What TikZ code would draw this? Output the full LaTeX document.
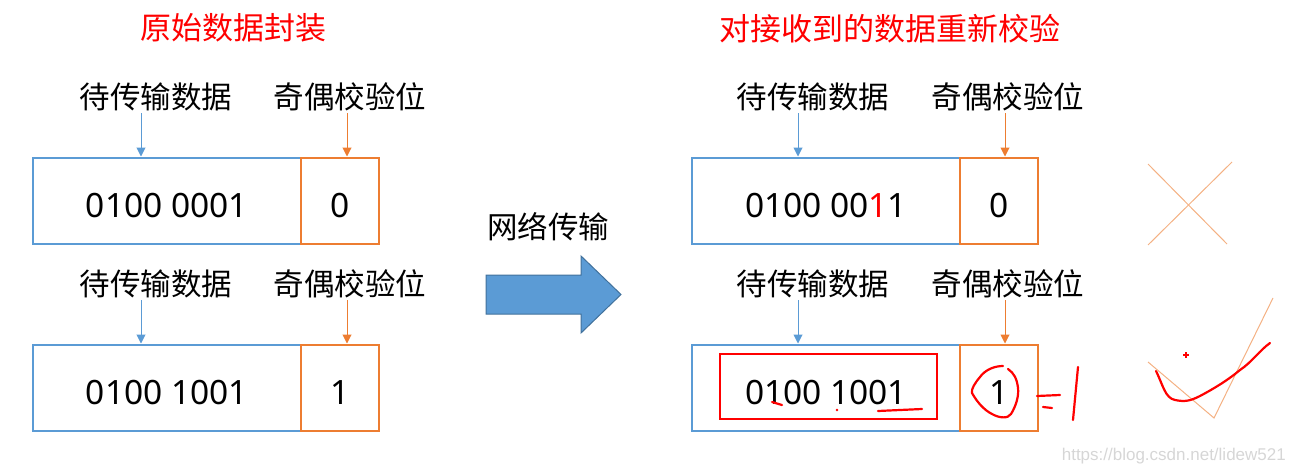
\documentclass[tikz,border=0pt]{standalone}
\usepackage{fontspec}
\setmainfont{Noto Sans CJK SC}
\newfontfamily\wmfont{Liberation Sans}
\newfontfamily\digfont{Noto Sans}
\definecolor{pblue}{HTML}{5B9BD5}
\definecolor{porange}{HTML}{ED7D31}
\definecolor{lorange}{HTML}{F4B183}
\definecolor{darkblue}{HTML}{41719C}
\definecolor{wmgray}{HTML}{D6D6D6}
\usetikzlibrary{arrows.meta}
\tikzset{
  lbl/.style={inner sep=0pt, font=\fontsize{30.5}{34}\selectfont},
  ttl/.style={inner sep=0pt, text=red, font=\fontsize{31}{34}\selectfont},
  datab/.style={draw=pblue, line width=2pt, minimum width=268pt, minimum height=86pt, inner sep=0pt, text height=33pt, text depth=0pt, font=\digfont\fontsize{33.5}{36}\selectfont},
  parb/.style={draw=porange, line width=2pt, minimum width=78pt, minimum height=86pt, inner sep=0pt, text height=33pt, text depth=0pt, font=\digfont\fontsize{33.5}{36}\selectfont},
  barrow/.style={draw=pblue, line width=1pt, -{Triangle[length=9pt,width=9pt]}},
  oarrow/.style={draw=porange, line width=1pt, -{Triangle[length=9pt,width=9pt]}},
  hand/.style={draw=red, line width=2.2pt, line cap=round, line join=round},
  thinx/.style={draw=lorange, line width=1pt}
}
\begin{document}
\begin{tikzpicture}[x=1pt,y=-1pt]
\useasboundingbox (0,0) rectangle (1294,474);
% titles
\node[ttl] (t1) at (233,28) {原始数据封装};
\node[ttl] (t2) at (890,29) {对接收到的数据重新校验};
% left top
\node[lbl] (la1) at (156,97) {待传输数据};
\node[lbl] (lb1) at (350,97) {奇偶校验位};
\node[datab] (d1) at (167,200.5) {0100 0001};
\node[parb] (p1) at (340,200.5) {0};
\coordinate (a1s) at (141,113);
\coordinate (b1s) at (347,113);
\draw[barrow] (a1s) -- (a1s |- d1.north);
\draw[oarrow] (b1s) -- (b1s |- p1.north);
% left bottom
\node[lbl] (la2) at (156,284) {待传输数据};
\node[lbl] (lb2) at (350,284) {奇偶校验位};
\node[datab] (d2) at (167,387.5) {0100 1001};
\node[parb] (p2) at (340,387.5) {1};
\coordinate (a2s) at (141,300);
\coordinate (b2s) at (347,300);
\draw[barrow] (a2s) -- (a2s |- d2.north);
\draw[oarrow] (b2s) -- (b2s |- p2.north);
% network arrow
\node[lbl] (net) at (548,227) {网络传输};
\draw[fill=pblue, draw=darkblue, line width=1pt] (486,275) -- (581,275) -- (581,256) -- (621,294.5) -- (581,333) -- (581,314) -- (486,314) -- cycle;
% right top
\node[lbl] (la3) at (813,97) {待传输数据};
\node[lbl] (lb3) at (1008,97) {奇偶校验位};
\node[datab] (d3) at (826,200.5) {0100 00\textcolor{red}{1}1};
\node[parb] (p3) at (999,200.5) {0};
\coordinate (a3s) at (798,113);
\coordinate (b3s) at (1005,113);
\draw[barrow] (a3s) -- (a3s |- d3.north);
\draw[oarrow] (b3s) -- (b3s |- p3.north);
% right bottom
\node[lbl] (la4) at (813,284) {待传输数据};
\node[lbl] (lb4) at (1008,284) {奇偶校验位};
\node[datab] (d4) at (826,387.5) {0100 1001};
\node[parb] (p4) at (999,387.5) {1};
\coordinate (a4s) at (798,300);
\coordinate (b4s) at (1005,300);
\draw[barrow] (a4s) -- (a4s |- d4.north);
\draw[oarrow] (b4s) -- (b4s |- p4.north);
% red rectangle
\draw[draw=red, line width=2pt] (720,354) rectangle (937,419);
% underlines
\draw[hand] (772,402) -- (782,405);
\fill[red] (837,410) circle (1.3pt);
\draw[hand] (878,411) -- (922,409);
% circle around 1
\draw[hand] (1003,366) .. controls (994,366) and (985,370) .. (980,377)
  .. controls (975,383) and (971,389) .. (972,393)
  .. controls (977,402) and (984,410) .. (992,414)
  .. controls (999,418) and (1008,419) .. (1011,414)
  .. controls (1016,406) and (1019,396) .. (1018,388)
  .. controls (1017,379) and (1014,373) .. (1008,369);
% =1
\draw[hand] (1037,396) -- (1060,395);
\draw[hand] (1043,407) -- (1052,408);
\draw[hand] (1078,367) -- (1073,420);
% cross
\draw[thinx] (1148,164) -- (1227,244);
\draw[thinx] (1232,162) -- (1148,245);
% check
\draw[thinx] (1148,362) -- (1214,418) -- (1273,298);
\draw[hand] (1156,371) .. controls (1163,385) and (1165,398) .. (1175,400)
  .. controls (1185,402) and (1190,401) .. (1200,396)
  .. controls (1215,388) and (1228,380) .. (1240,370)
  .. controls (1252,362) and (1260,350) .. (1270,343);
\draw[red, line width=1.2pt] (1183,355) -- (1189,355) (1186,352) -- (1186,358);
% watermark
\node[inner sep=0pt, text=wmgray, font=\wmfont\fontsize{17}{20}\selectfont, anchor=east] (wm) at (1286,456) {https://blog.csdn.net/lidew521};
\end{tikzpicture}
\end{document}
